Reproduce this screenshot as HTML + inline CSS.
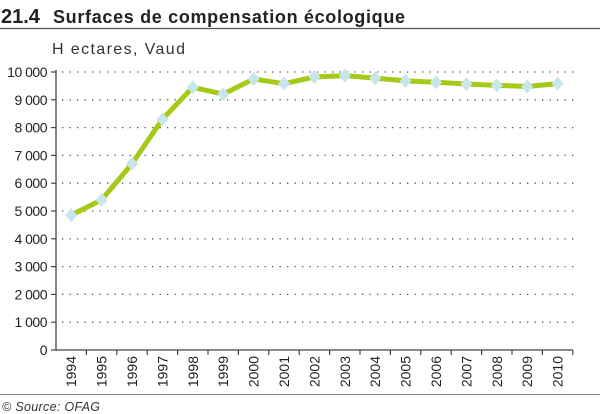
<!DOCTYPE html>
<html><head><meta charset="utf-8"><style>
body{margin:0;background:#fff;width:600px;height:414px;overflow:hidden;font-family:"Liberation Sans",sans-serif}
</style></head><body>
<svg width="600" height="414" style="position:absolute;left:0;top:0">
<text x="1" y="23" font-size="20" font-weight="bold" fill="#222">21.4</text>
<text x="53" y="23" font-size="18" font-weight="bold" fill="#222" textLength="352" lengthAdjust="spacing">Surfaces de compensation écologique</text>
<line x1="0" y1="28.5" x2="600" y2="28.5" stroke="#555" stroke-width="1.2"/>
<text x="52" y="54" font-size="16" fill="#333" textLength="133" lengthAdjust="spacing">H ectares, Vaud</text>
<g id="grid"></g><g id="axes"></g><g id="series"></g>
<line x1="0" y1="394.5" x2="600" y2="394.5" stroke="#888" stroke-width="1"/>
<text x="2" y="411" font-size="12.5" font-style="italic" fill="#333" textLength="98" lengthAdjust="spacing">© Source: OFAG</text>
</svg>
<script>
const years=["1994","1995","1996","1997","1998","1999","2000","2001","2002","2003","2004","2005","2006","2007","2008","2009","2010"];
const values=[4850,5400,6700,8300,9450,9200,9750,9580,9820,9870,9780,9680,9630,9570,9520,9480,9580];
const yTicks=[0,1000,2000,3000,4000,5000,6000,7000,8000,9000,10000];
const yTickLabels=["0","1 000","2 000","3 000","4 000","5 000","6 000","7 000","8 000","9 000","10 000"];
const NS="http://www.w3.org/2000/svg";
const X0=56,STEP=30.4,Y0=350,Y1=72;
const xs=i=>X0+STEP/2+i*STEP;
const ys=v=>Y0-(v/10000)*(Y0-Y1);
function mk(p,t,a){const e=document.createElementNS(NS,t);for(const k in a)e.setAttribute(k,a[k]);p.appendChild(e);return e;}
const grid=document.getElementById('grid'),axes=document.getElementById('axes'),ser=document.getElementById('series');
yTicks.forEach((v,i)=>{
 if(v>0){const g=mk(grid,'line',{x1:X0+6,x2:576,y1:ys(v),y2:ys(v),stroke:'#555','stroke-width':1.3,'stroke-dasharray':'1.3 6.2'});
 }
 const t=mk(axes,'line',{x1:X0-5,x2:X0,y1:ys(v),y2:ys(v),stroke:'#444','stroke-width':1.2});
 
 const l=mk(axes,'text',{x:X0-9,y:ys(v)+5,'font-size':14,'text-anchor':'end',fill:'#222','letter-spacing':'-0.5'});
 l.textContent=yTickLabels[i];
});
let a=mk(axes,'line',{x1:X0,x2:X0,y1:70,y2:Y0,stroke:'#444','stroke-width':1.3});

a=mk(axes,'line',{x1:X0,x2:X0+STEP*years.length,y1:Y0,y2:Y0,stroke:'#444','stroke-width':1.3});

years.forEach((y,i)=>{
 const t=mk(axes,'line',{x1:X0+(i+1)*STEP,x2:X0+(i+1)*STEP,y1:Y0,y2:Y0+5,stroke:'#444','stroke-width':1.2});
 
 const l=mk(axes,'text',{x:0,y:0,'font-size':14,'text-anchor':'end',fill:'#222',transform:`translate(${xs(i)+5},${Y0+6}) rotate(-90)`});
 l.textContent=y;
});
const line=mk(ser,'polyline',{points:values.map((v,i)=>xs(i)+','+ys(v)).join(' '),fill:'none',stroke:'#a5c917','stroke-width':5,'stroke-linejoin':'round'});

values.forEach((v,i)=>{
 const x=xs(i),y=ys(v);
 const d=mk(ser,'polygon',{points:`${x},${y-7} ${x+6},${y} ${x},${y+7} ${x-6},${y}`,fill:'#c7e6ec'});
 
});
</script>
</body></html>
